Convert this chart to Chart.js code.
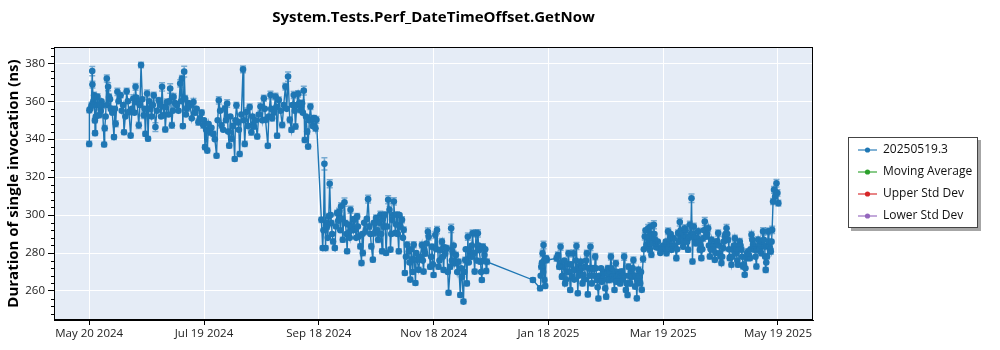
<!DOCTYPE html>
<html>
<head>
<meta charset="utf-8">
<script src="https://cdn.jsdelivr.net/npm/chart.js@4.4.1/dist/chart.umd.min.js"></script>
<style>
  html, body { margin: 0; padding: 0; background: #ffffff; }
  #wrap { width: 1000px; height: 350px; position: relative; }
</style>
</head>
<body>
<div id="wrap"><canvas id="perf" width="1000" height="350"></canvas></div>
<script>
// ---- chart text ----
const chartTitle = 'System.Tests.Perf_DateTimeOffset.GetNow';
const yAxisTitle = 'Duration of single invocation (ns)';
const seriesNames = ['20250519.3', 'Moving Average', 'Upper Std Dev', 'Lower Std Dev'];
const seriesColors = ['#1f77b4', '#2ca02c', '#d62728', '#9467bd'];

// ---- axes (x in days since May 20 2024) ----
const xTickDays = [0, 60.67, 121.33, 182, 242.67, 303.33, 364];
const xTickLabels = ['May 20 2024', 'Jul 19 2024', 'Sep 18 2024', 'Nov 18 2024', 'Jan 18 2025', 'Mar 19 2025', 'May 19 2025'];
const xRange = [-18.6, 382.5];
const yTicks = [260, 280, 300, 320, 340, 360, 380];
const yRange = [244.7, 388.6];

// ---- runs with error bars: day offset, measured duration (ns), error half-width (ns) ----
const runDays = [
  0, 0.1, 1.2, 1.6, 1.7, 2.6, 3.0, 3.1, 4.0, 4.4,
  5.2, 7.0, 7.9, 8.2, 9.3, 10.0, 10.5, 11.4, 13.1, 14.0,
  14.9, 16.6, 18.4, 19.8, 21.0, 21.9, 23.3, 24.5, 25.3, 26.2,
  27.4, 28.8, 29.7, 30.6, 31.1, 32.3, 34.1, 35.0, 36.7, 38.5,
  39.3, 40.2, 41.1, 42.8, 43.7, 44.6, 46.3, 48.1, 49.0, 49.5,
  50.2, 50.7, 51.6, 53.3, 55.1, 55.9, 57.7, 59.4, 60.3, 61.2,
  62.4, 63.8, 65.6, 67.3, 68.5, 69.9, 71.7, 72.9, 74.0, 75.2,
  76.9, 77.8, 78.7, 79.5, 81.3, 82.2, 83.0, 84.8, 85.7,
  87.0, 88.8, 90.5, 92.3, 93.2, 94.4, 95.8, 96.7, 98.4, 99.3,
  100.2, 102.0, 103.7, 105.1, 106.0, 106.9, 108.1, 109.0, 110.4, 111.6,
  112.5, 113.4, 113.9, 115.2, 115.7, 116.9, 117.5, 118.7, 119.6, 120.1,
  122.7, 123.4, 124.3, 124.9, 125.7, 126.6, 127.1, 128.0, 128.9, 129.8,
  131.0, 132.2, 133.1, 134.0, 134.9, 135.4, 136.3, 137.2, 138.1, 138.9,
  139.8, 140.7, 141.6, 142.5, 143.3, 143.9, 144.6, 146.0, 147.4, 148.1,
  149.1, 149.9, 150.9, 151.6, 152.7, 153.9, 154.8, 155.7, 156.2, 156.9,
  158.0, 158.7, 159.2, 160.1, 161.0, 161.8, 162.7, 163.6, 164.5, 165.3,
  166.2, 166.8, 168.0, 168.9, 169.7, 170.6, 171.5, 172.4, 173.3, 174.1,
  175.8, 176.7, 177.6, 179.0, 179.4, 180.2, 181.1, 182.0, 182.9, 183.8,
  184.6, 185.5, 186.4, 187.3, 188.2, 189.0, 189.9, 190.8, 191.3, 192.0,
  193.1, 193.8, 195.2, 196.1, 197.0, 197.8, 198.7, 199.6, 200.1, 201.0,
  201.9, 202.6, 203.7, 204.4, 205.4, 206.1, 206.8, 207.5, 208.1, 208.9,
  209.8, 210.2, 234.5, 238.3, 238.9, 239.6, 240.1, 240.6, 241.0, 241.5,
  241.8, 247.0, 247.7, 248.4, 249.1, 249.8, 250.7, 251.5, 252.4, 253.3,
  254.2, 255.1, 255.9, 256.8, 257.5, 258.2, 258.9, 259.8, 260.7, 261.2,
  262.1, 263.0, 263.5, 264.2, 264.9, 265.6, 266.5, 267.4, 268.3, 269.1,
  270.0, 270.9, 271.8, 272.7, 273.2, 274.1, 274.8, 275.7, 276.5, 277.6,
  278.3, 278.8, 279.7, 280.6, 281.5, 282.7, 283.6, 284.5, 285.0, 285.9,
  286.8, 287.6, 288.5, 289.4, 290.3, 291.2, 292.0, 292.7, 293.6, 294.5,
  295.4, 296.3, 296.6, 297.1, 297.7, 298.4, 299.1, 299.8, 301.2, 302.4,
  304.2, 305.1, 305.9, 306.8, 307.7, 308.9, 310.3, 311.2, 312.1, 313.0,
  313.9, 314.7, 315.6, 316.5, 317.4, 318.3, 318.8, 319.5, 320.6, 321.8,
  322.7, 323.5, 324.4, 325.3, 326.2, 327.1, 328.0, 328.8, 329.7, 330.6,
  331.5, 332.4, 333.2, 334.1, 335.0, 335.9, 336.8, 337.6, 338.5, 339.4,
  340.3, 341.2, 342.0, 342.9, 343.8, 344.7, 345.6, 346.4, 347.3, 348.2,
  349.1, 350.0, 350.8, 351.7, 352.6, 353.5, 354.4, 355.2, 356.1, 357.0,
  357.5, 358.2, 358.8, 359.6, 360.2, 360.9, 361.4, 361.9, 362.5, 363.2,
  363.7, 364.2
];

const durations = [
  337.5, 355.2, 357.9, 375.9, 368.8, 363.2, 349.9, 343.2, 357.9, 362.3,
  352.6, 357.9, 337.2, 345.8, 372.0, 367.6, 362.3, 356.1, 341.1, 348.1,
  365.0, 363.2, 343.7, 365.3, 354.3, 341.9, 361.4, 367.6, 359.6, 347.3,
  379.1, 352.6, 342.8, 364.1, 340.2, 356.1, 363.2, 346.4, 360.5, 367.6,
  352.6, 345.1, 359.6, 366.7, 347.3, 362.3, 357.9, 369.4, 372.0, 346.9,
  375.6, 361.4, 356.1, 357.9, 359.6, 354.0, 349.0, 354.0, 347.3, 335.8,
  334.0, 343.7, 342.8, 331.3, 360.5, 347.3, 356.1, 358.8, 336.6, 340.2,
  329.6, 357.9, 349.0, 332.2, 376.8, 337.5, 354.3, 357.0, 343.7,
  346.7, 341.4, 357.2, 361.6, 350.2, 336.5, 363.3, 351.1, 362.5, 341.8,
  360.7, 347.5, 367.7, 373.0, 350.2, 344.9, 363.3, 346.7, 363.9, 355.4,
  358.9, 365.6, 339.6, 344.0, 336.1, 357.2, 350.2, 351.1, 345.8, 350.2,
  297.5, 282.6, 327.0, 282.6, 294.0, 299.3, 316.5, 295.8, 286.1, 282.6,
  301.1, 301.9, 304.6, 287.0, 306.8, 295.8, 280.9, 290.5, 302.8, 294.0,
  297.5, 292.3, 299.3, 288.8, 283.5, 274.7, 280.0, 291.4, 308.4, 294.0,
  283.5, 276.5, 290.5, 298.4, 287.0, 300.2, 280.9, 294.0, 300.2, 280.0,
  308.1, 302.8, 281.8, 297.5, 307.2, 290.5, 300.2, 280.9, 294.0, 297.5,
  292.3, 269.5, 284.4, 280.9, 266.0, 276.5, 284.4, 264.2, 276.5, 271.2,
  284.2, 270.2, 279.8, 291.2, 288.6, 272.8, 283.3, 268.4, 289.5, 292.1,
  272.8, 281.6, 286.0, 271.1, 279.8, 282.5, 259.1, 272.8, 293.0, 280.7,
  274.6, 278.9, 275.4, 257.9, 267.5, 254.4, 276.3, 264.0, 288.6, 281.6,
  278.1, 290.4, 270.2, 290.4, 290.4, 281.6, 275.4, 265.8, 283.3, 278.9,
  270.5, 275.4, 265.8, 261.4, 272.8, 279.8, 284.2, 265.8, 262.6, 277.2,
  276.3, 277.2, 278.9, 272.8, 283.3, 267.5, 272.8, 264.0, 270.2, 279.8,
  260.5, 267.5, 279.8, 271.1, 283.7, 258.8, 272.8, 275.4, 264.0, 268.4,
  272.8, 279.8, 258.2, 271.9, 283.3, 264.0, 271.9, 278.1, 265.8, 256.0,
  267.5, 264.9, 269.3, 261.4, 257.0, 271.9, 265.8, 278.1, 267.5, 260.5,
  274.6, 264.9, 268.4, 264.0, 270.2, 278.1, 260.5, 257.9, 272.8, 264.0,
  267.5, 276.3, 262.3, 256.1, 271.1, 264.0, 260.6, 276.8, 288.7, 284.3,
  293.1, 281.7, 294.0, 279.1, 288.7, 294.9, 287.0, 285.2, 282.6, 281.7,
  282.6, 279.9, 291.4, 287.0, 281.7, 287.8, 277.3, 290.5, 296.3, 288.7,
  283.4, 293.1, 288.7, 281.7, 294.9, 308.9, 275.5, 294.0, 285.2, 291.4,
  281.7, 277.3, 287.8, 296.6, 288.7, 293.1, 278.2, 287.0, 281.7, 276.4,
  286.1, 290.5, 279.9, 274.7, 282.6, 288.7, 293.1, 287.0, 277.3, 273.8,
  281.7, 287.8, 279.9, 273.8, 286.1, 281.7, 272.9, 268.5, 277.3, 280.8,
  277.3, 289.6, 284.3, 281.7, 272.9, 287.0, 281.7, 279.9, 291.4, 283.4,
  271.1, 278.2, 291.4, 283.4, 280.8, 292.2, 307.2, 313.3, 309.8, 316.8,
  311.6, 306.3
];

const spreads = [
  1.4, 1.2, 1.6, 2.4, 1.8, 1.5, 1.2, 1.3, 2.2, 1.6,
  1.3, 1.7, 1.2, 1.4, 1.8, 2.1, 1.5, 1.3, 1.2, 1.6,
  1.9, 1.4, 1.2, 1.6, 1.5, 1.3, 2.0, 1.8, 1.4, 1.6,
  1.5, 1.7, 1.3, 1.9, 1.2, 1.4, 1.6, 2.3, 1.5, 2.2,
  1.4, 1.3, 1.6, 2.5, 1.5, 1.8, 1.4, 1.9, 1.6, 1.3,
  2.8, 1.7, 1.4, 1.5, 1.8, 1.3, 1.6, 1.4, 1.5, 1.2,
  1.3, 1.6, 1.4, 1.2, 1.9, 1.5, 1.7, 2.0, 1.3, 1.4,
  1.2, 1.6, 1.5, 1.3, 1.8, 1.4, 2.1, 1.5, 1.6,
  1.5, 1.3, 1.9, 1.6, 1.4, 1.2, 2.0, 1.5, 1.7, 1.3,
  1.6, 1.4, 1.8, 2.4, 1.5, 1.3, 1.9, 1.4, 1.6, 1.5,
  1.7, 2.3, 1.3, 1.4, 1.2, 1.6, 1.5, 1.4, 1.6, 1.8,
  1.4, 1.2, 3.2, 1.3, 1.5, 1.6, 2.1, 1.4, 1.3, 1.2,
  1.5, 1.7, 1.9, 1.3, 2.2, 1.4, 1.2, 1.5, 1.8, 1.4,
  1.6, 1.3, 1.5, 1.4, 1.2, 1.3, 1.4, 1.6, 2.0, 1.5,
  1.3, 1.2, 1.5, 1.7, 1.4, 1.8, 1.3, 1.5, 1.6, 1.2,
  2.1, 1.7, 1.3, 1.5, 1.9, 1.4, 1.6, 1.3, 1.5, 1.6,
  1.4, 1.2, 1.5, 1.3, 1.2, 1.4, 1.6, 1.2, 1.5, 1.3,
  1.6, 1.3, 1.5, 2.0, 1.7, 1.3, 1.5, 1.2, 1.8, 1.9,
  1.3, 1.5, 1.6, 1.2, 1.4, 1.5, 1.2, 1.3, 2.2, 1.4,
  1.3, 1.5, 1.4, 1.2, 1.3, 1.2, 1.5, 1.3, 1.9, 1.4,
  1.5, 1.8, 1.3, 1.7, 1.9, 1.4, 1.3, 1.2, 1.6, 1.5,
  1.3, 1.4, 1.2, 1.3, 1.5, 1.7, 2.0, 1.3, 1.2, 1.5,
  1.4, 1.5, 1.6, 1.3, 1.9, 1.3, 1.4, 1.2, 1.5, 1.7,
  1.2, 1.3, 1.8, 1.4, 1.9, 1.2, 1.5, 1.4, 1.3, 1.4,
  1.5, 1.7, 1.2, 1.4, 2.0, 1.3, 1.5, 1.6, 1.3, 1.2,
  1.4, 1.3, 1.5, 1.2, 1.3, 1.5, 1.4, 1.8, 1.3, 1.2,
  1.6, 1.3, 1.4, 1.3, 1.5, 1.9, 1.2, 1.3, 1.5, 1.4,
  1.3, 1.6, 1.2, 1.2, 1.5, 1.3, 1.2, 1.6, 1.8, 1.5,
  2.0, 1.4, 1.9, 1.5, 1.7, 2.1, 1.5, 1.4, 1.3, 1.5,
  1.4, 1.3, 1.8, 1.5, 1.3, 1.6, 1.4, 1.7, 2.0, 1.5,
  1.4, 1.8, 1.6, 1.3, 1.9, 2.2, 1.3, 1.7, 1.5, 1.6,
  1.4, 1.3, 1.6, 2.1, 1.5, 1.7, 1.3, 1.5, 1.4, 1.3,
  1.5, 1.7, 1.4, 1.3, 1.4, 1.6, 1.9, 1.5, 1.3, 1.2,
  1.4, 1.6, 1.3, 1.2, 1.5, 1.4, 1.3, 1.2, 1.4, 1.5,
  1.3, 1.8, 1.5, 1.4, 1.3, 1.6, 1.4, 1.3, 1.9, 1.5,
  1.3, 1.4, 1.8, 1.5, 1.4, 1.9, 1.6, 1.8, 1.5, 2.0,
  1.7, 1.5
];

// ---- further runs inside the dense bands (tight, no visible error bars) ----
const extraRunDays = [
  0.6, 2.2, 3.5, 4.8, 6.1, 6.5, 8.7, 9.7, 11.0, 12.2,
  13.6, 15.5, 17.2, 17.9, 19.1, 20.4, 22.6, 23.9, 24.9, 26.8,
  28.1, 29.2, 31.7, 33.0, 33.6, 35.8, 37.4, 38.0, 39.8, 41.9,
  42.3, 44.2, 45.4, 47.2, 48.6, 51.1, 52.4, 54.2, 56.8, 58.5,
  60.7, 61.8, 63.1, 64.6, 66.4, 67.9, 69.2, 70.8, 72.3, 73.4,
  74.6, 76.0, 77.3, 79.1, 80.4, 81.7, 83.9, 86.3, 87.9, 89.6,
  91.4, 92.8, 94.9, 96.2, 97.5, 98.9, 101.1, 102.8, 104.4, 107.4,
  108.6, 109.7, 111.1, 112.9, 114.6, 116.3, 118.1, 119.1,
  123.8, 125.3, 126.1, 127.6, 128.4, 130.4, 131.6, 132.7, 133.6, 135.9,
  136.8, 137.7, 139.4, 140.2, 141.1, 142.0, 144.3, 145.3, 146.7, 148.6,
  150.4, 152.2, 153.3, 154.3, 155.2, 157.5, 159.6, 160.6, 162.2, 163.1,
  164.0, 165.8, 167.4, 169.3, 170.2, 171.0, 172.9, 174.9, 176.3, 177.1,
  178.2, 180.7, 181.6, 183.4, 185.1, 186.9, 187.8, 189.5, 191.7, 192.6,
  194.5, 196.6, 198.2, 199.0, 200.6, 202.2, 203.2, 204.9, 205.8, 207.1,
  208.5, 209.3,
  238.6, 239.3, 239.9, 240.4, 248.8, 250.2, 251.1, 252.0, 252.8, 253.8,
  254.6, 256.3, 257.1, 258.6, 259.3, 260.2, 261.7, 262.6, 264.5, 265.9,
  266.9, 267.8, 268.7, 269.6, 270.5, 271.3, 272.2, 273.6, 274.4, 275.2,
  276.1, 277.1, 278.0, 279.2, 280.1, 281.0, 282.1, 283.1, 284.0, 285.4,
  286.3, 287.2, 288.1, 288.9, 289.8, 290.7, 291.6,
  293.1, 294.0, 295.0, 295.8, 297.4, 298.0, 298.7, 299.5, 300.5, 301.8,
  303.3, 304.7, 305.5, 306.3, 307.3, 308.3, 309.6, 310.7, 311.6, 312.6,
  313.5, 314.3, 315.2, 316.0, 317.0, 317.9, 319.2, 320.0, 321.2, 322.3,
  323.1, 324.0, 324.8, 325.7, 326.6, 327.5, 328.4, 329.2, 330.1, 331.0,
  332.0, 332.8, 333.6, 334.5, 335.4, 336.3, 337.2, 338.1, 338.9, 339.9,
  340.7, 341.6, 342.5, 343.3, 344.2, 345.1, 346.0, 346.8, 347.7, 348.6,
  349.5, 350.4, 351.3, 352.1, 353.0, 353.9, 354.8, 355.7, 356.5, 357.2,
  357.8, 358.5, 359.2, 359.9, 360.6
];

const extraDurations = [
  356, 360, 352, 358, 355, 360, 352, 358, 361, 354,
  356, 360, 355, 358, 352, 360, 356, 354, 362, 358,
  361, 356, 360, 352, 358, 355, 358, 352, 357, 353,
  360, 355, 359, 355, 360, 353, 359, 351, 356, 351,
  350, 345, 348, 346, 340, 350, 355, 345, 350, 344,
  352, 347, 350, 345, 353, 350, 347, 352, 350, 353,
  350, 356, 352, 356, 354, 357, 355, 358, 356, 358,
  355, 358, 359, 354, 352, 350, 347, 351,
  292, 296, 288, 300, 290, 294, 297, 292, 298, 290,
  295, 288, 292, 298, 288, 294, 290, 296, 298, 290,
  296, 292, 296, 290, 298, 294, 290, 300, 295, 290,
  300, 288, 278, 275, 282, 270, 280, 278, 276, 282,
  285, 278, 274, 282, 276, 278, 283, 270, 276, 284,
  270, 272, 270, 282, 275, 284, 280, 276, 284, 270,
  276, 282,
  268, 275, 270, 276, 275, 268, 276, 266, 274, 270,
  274, 266, 276, 268, 270, 272, 266, 276, 268, 272,
  268, 272, 262, 268, 272, 266, 270, 266, 268, 270,
  272, 266, 270, 270, 266, 268, 266, 268, 264, 268,
  270, 272, 268, 268, 266, 268, 270,
  282, 292, 288, 286, 290, 285, 290, 283, 286, 280,
  284, 286, 284, 283, 290, 284, 284, 282, 286, 292,
  290, 286, 292, 286, 288, 290, 290, 288, 288, 286,
  284, 282, 292, 292, 290, 284, 282, 284, 284, 280,
  286, 284, 278, 278, 286, 290, 290, 282, 278, 278,
  284, 284, 276, 282, 284, 278, 274, 272, 280, 279,
  282, 287, 283, 278, 282, 284, 284, 286, 287, 278,
  275, 284, 286, 282, 286
];

const FONT = '"Open Sans", "Noto Sans", "DejaVu Sans", sans-serif';
const PLOT_BG = '#e5ecf6';

// Plot background behind the grid, and the black frame around it.
const plotFrame = {
  id: 'plotFrame',
  beforeDraw(chart) {
    const { ctx, chartArea: a } = chart;
    ctx.save();
    ctx.fillStyle = PLOT_BG;
    ctx.fillRect(a.left, a.top, a.right - a.left, a.bottom - a.top);
    ctx.restore();
  },
  afterDraw(chart) {
    const { ctx, chartArea: a, scales } = chart;
    ctx.save();
    ctx.strokeStyle = '#000';
    ctx.lineWidth = 1;
    ctx.strokeRect(Math.round(a.left) + 0.5, Math.round(a.top) + 0.5,
                   Math.round(a.right - a.left) - 1, Math.round(a.bottom - a.top) - 1);
    // minor ticks on the value axis, every 4 ns
    const ys = scales.y;
    ctx.beginPath();
    for (let v = 248; v <= yRange[1]; v += 4) {
      if (yTicks.includes(v)) continue;
      const py = Math.round(ys.getPixelForValue(v)) + 0.5;
      ctx.moveTo(a.left - 3, py);
      ctx.lineTo(a.left, py);
    }
    ctx.stroke();
    ctx.restore();
  }
};

// Vertical error bars with caps for the runs that carry a spread.
const errorBars = {
  id: 'errorBars',
  afterDatasetsDraw(chart) {
    const { ctx, chartArea: a, scales: { x: xs, y: ys } } = chart;
    ctx.save();
    ctx.beginPath();
    ctx.rect(a.left, a.top, a.right - a.left, a.bottom - a.top);
    ctx.clip();
    ctx.strokeStyle = 'rgba(31,119,180,0.55)';
    ctx.lineWidth = 1.5;
    runDays.forEach((d, i) => {
      const px = xs.getPixelForValue(d);
      const hi = ys.getPixelForValue(durations[i] + spreads[i]);
      const lo = ys.getPixelForValue(durations[i] - spreads[i]);
      ctx.beginPath();
      ctx.moveTo(px, hi); ctx.lineTo(px, lo);
      ctx.moveTo(px - 3, hi); ctx.lineTo(px + 3, hi);
      ctx.moveTo(px - 3, lo); ctx.lineTo(px + 3, lo);
      ctx.stroke();
    });
    ctx.restore();
  }
};

// Boxed legend with a drop shadow, to the right of the plot.
const boxLegend = {
  id: 'boxLegend',
  afterDraw(chart) {
    const { ctx } = chart;
    const bx = 848, by = 137, bw = 130, bh = 91;
    ctx.save();
    ctx.fillStyle = 'rgba(0,0,0,0.35)';
    ctx.fillRect(bx + 3, by + 3, bw, bh);
    ctx.fillStyle = '#ffffff';
    ctx.fillRect(bx, by, bw, bh);
    ctx.strokeStyle = '#444';
    ctx.lineWidth = 1;
    ctx.strokeRect(bx + 0.5, by + 0.5, bw - 1, bh - 1);
    ctx.font = '12px ' + FONT;
    ctx.textBaseline = 'middle';
    chart.data.datasets.forEach((ds, i) => {
      const cy = by + 13 + i * 22;
      ctx.globalAlpha = 0.75;
      ctx.strokeStyle = ds.borderColor;
      ctx.lineWidth = 1.5;
      ctx.beginPath();
      ctx.moveTo(858, cy); ctx.lineTo(877, cy);
      ctx.stroke();
      ctx.globalAlpha = 1;
      ctx.fillStyle = ds.borderColor;
      ctx.beginPath();
      ctx.arc(867.5, cy, 2.6, 0, Math.PI * 2);
      ctx.fill();
      ctx.fillStyle = '#111';
      ctx.fillText(ds.label, 883, cy);
    });
    ctx.restore();
  }
};

// All runs of the build series, in time order.
const buildPoints = runDays.map((d, k) => ({ x: d, y: durations[k] }))
  .concat(extraRunDays.map((d, k) => ({ x: d, y: extraDurations[k] })))
  .sort((p, q) => p.x - q.x);

const datasets = seriesNames.map((name, i) => ({
  label: name,
  data: i === 0 ? buildPoints : [],
  borderColor: seriesColors[i],
  backgroundColor: seriesColors[i],
  borderWidth: 1.4,
  pointRadius: 3.3,
  pointBorderWidth: 0,
  pointHoverRadius: 3.3,
  tension: 0
}));

new Chart(document.getElementById('perf'), {
  type: 'line',
  data: { datasets },
  plugins: [plotFrame, errorBars, boxLegend],
  options: {
    responsive: false,
    animation: false,
    devicePixelRatio: 1,
    layout: { padding: { top: 0, right: 187, bottom: 0, left: 0 } },
    plugins: {
      legend: { display: false },
      tooltip: { enabled: false },
      title: {
        display: true,
        text: chartTitle,
        fullSize: false,
        color: '#000',
        font: { family: FONT, size: 15, weight: 'bold', lineHeight: 1.2 },
        padding: { top: 9, bottom: 20 }
      }
    },
    scales: {
      x: {
        type: 'linear',
        position: 'bottom',
        min: xRange[0],
        max: xRange[1],
        afterBuildTicks: s => { s.ticks = xTickDays.map(v => ({ value: v })); },
        afterFit: s => { s.height = 30; },
        grid: { color: '#ffffff', lineWidth: 1, tickColor: '#000', tickLength: 5, drawOnChartArea: true },
        border: { display: true, color: '#000' },
        ticks: {
          autoSkip: false, maxRotation: 0, padding: 2,
          color: '#222', font: { family: FONT, size: 11.5 },
          callback: (v, i) => xTickLabels[i]
        }
      },
      y: {
        type: 'linear',
        min: yRange[0],
        max: yRange[1],
        afterBuildTicks: s => { s.ticks = yTicks.map(v => ({ value: v })); },
        afterFit: s => { s.width = 54; },
        grid: { color: '#ffffff', lineWidth: 1, tickColor: '#000', tickLength: 6 },
        border: { display: true, color: '#000' },
        ticks: { padding: 3, color: '#222', font: { family: FONT, size: 11.5 } },
        title: {
          display: true,
          text: yAxisTitle,
          color: '#000',
          font: { family: FONT, size: 15, weight: 'bold', lineHeight: 1.2 },
          padding: { top: 5, bottom: 0 }
        }
      }
    }
  }
});
</script>
</body>
</html>
